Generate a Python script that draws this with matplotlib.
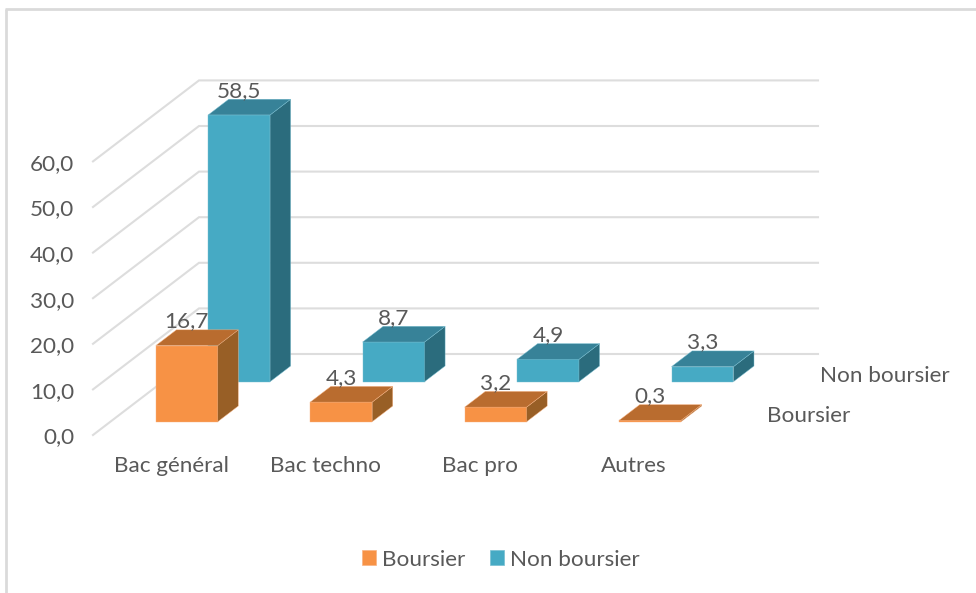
import matplotlib
matplotlib.use("Agg")
import matplotlib.pyplot as plt
from matplotlib.patches import Polygon, Patch

plt.rcParams['font.family'] = ['Lato', 'DejaVu Sans']

categories = ["Bac général", "Bac techno", "Bac pro", "Autres"]
boursier = [16.7, 4.3, 3.2, 0.3]
non_boursier = [58.5, 8.7, 4.9, 3.3]
y_ticks = [0, 10, 20, 30, 40, 50, 60]
series_names = ["Boursier", "Non boursier"]

TEXT = "#595959"
GRID = "#DDDDDD"
ORANGE = ("#F79245", "#B96C2F", "#985F26", "#F9B383")
BLUE = ("#46AAC4", "#378298", "#2B6C7D", "#78BFD2")

W, H = 976, 593
PX_X = 154.75           # pixels per category
PX_Y = 4.56             # pixels per value unit
X0, Y0 = 93, 435        # pixel position of the origin
DEPTH_X = 106 / PX_X    # wall depth, data units
DEPTH_Y = 81 / PX_Y
FS = 16.2

fig = plt.figure(figsize=(W / 100, H / 100), dpi=100)
ax = fig.add_axes([0, 0, 1, 1])
ax.set_xlim(-X0 / PX_X, (W - X0) / PX_X)
ax.set_ylim((Y0 - H) / PX_Y, Y0 / PX_Y)
ax.axis("off")

dx_px = 1 / PX_X
dy_px = 1 / PX_Y
n = len(categories)


def project(x, v, t):
    return x + DEPTH_X * t, v + DEPTH_Y * t


# outer frame of the picture
ax.plot([5.5 * dx_px - X0 / PX_X] * 2, [(Y0 - H) / PX_Y, (Y0 - 9) / PX_Y],
        color="#DADADA", lw=2.0, solid_capstyle="butt", zorder=1)
ax.plot([5 * dx_px - X0 / PX_X, (W - X0) / PX_X], [(Y0 - 9) / PX_Y] * 2,
        color="#DADADA", lw=2.0, solid_capstyle="butt", zorder=1)

# walls
for v in y_ticks:
    xs = [project(0, v, 0)[0], project(0, v, 1)[0], project(n, v, 1)[0]]
    ys = [project(0, v, 0)[1], project(0, v, 1)[1], project(n, v, 1)[1]]
    ax.plot(xs, ys, color=GRID, lw=1.5, solid_joinstyle="miter", zorder=2)
    ax.text(-19 * dx_px, v - 2.5 * dy_px, f"{v:.1f}".replace(".", ","), ha="right",
            va="center", fontsize=FS, color=TEXT, zorder=10)


def bar3d(i, value, t0, t1, colors, z):
    front, top, side, edge = colors
    shift = (1 + 0.3 * i) * dx_px
    xl, xr = i + 0.3 - shift, i + 0.7 - shift
    a = project(xl, 0, t0)
    b = project(xr, 0, t0)
    c = project(xr, value, t0)
    d = project(xl, value, t0)
    e = project(xr, 0, t1)
    f = project(xr, value, t1)
    g = project(xl, value, t1)
    for pts, col in (([a, b, c, d], front), ([b, e, f, c], side), ([d, c, f, g], top)):
        ax.add_patch(Polygon(pts, closed=True, facecolor=col, edgecolor=edge,
                             lw=0.3, joinstyle="round", zorder=z))
    ax.text((a[0] + b[0]) / 2, g[1] + 8.5 * dy_px, f"{value:.1f}".replace(".", ","), ha="center",
            va="center", fontsize=FS, color=TEXT, zorder=z + 0.5)


T_BACK = (0.658, 0.852)
T_FRONT = (0.164, 0.358)
for i in range(n):
    bar3d(i, non_boursier[i], *T_BACK, BLUE, 4)
for i in range(n):
    bar3d(i, boursier[i], *T_FRONT, ORANGE, 6)

# category labels
for i, c in enumerate(categories):
    ax.text(i + 0.5 + (1 - 0.6 * i) * dx_px, -31 * dy_px, c, ha="center", va="center",
            fontsize=FS, color=TEXT, zorder=10)

# series labels on the depth axis
ax.text(n + (820 - 93 - n * PX_X) * dx_px, (Y0 - 376.5) * dy_px, series_names[1], ha="left",
        va="center", fontsize=FS, color=TEXT, zorder=10)
ax.text(n + (767 - 93 - n * PX_X) * dx_px, (Y0 - 416.5) * dy_px, series_names[0], ha="left",
        va="center", fontsize=FS, color=TEXT, zorder=10)

handles = [Patch(facecolor=ORANGE[0], edgecolor=ORANGE[3], lw=0.5, label=series_names[0]),
           Patch(facecolor=BLUE[0], edgecolor=BLUE[3], lw=0.5, label=series_names[1])]
leg = ax.legend(handles=handles, ncol=2, frameon=False, fontsize=FS, loc="center",
                bbox_to_anchor=(501 / W, 1 - 559.5 / H), handlelength=0.62, handleheight=0.62,
                handletextpad=0.27, columnspacing=1.1, labelcolor=TEXT,
                borderpad=0, borderaxespad=0)

fig.savefig("out.png", dpi=100, facecolor="white")
